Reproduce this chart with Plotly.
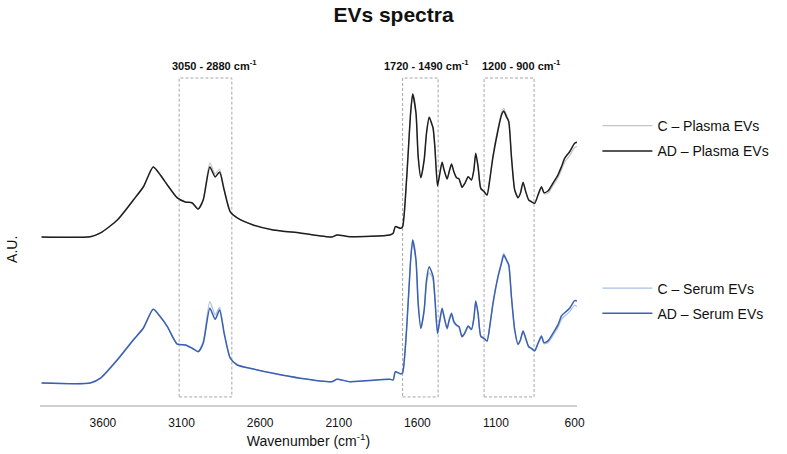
import plotly.graph_objects as go

# Wavenumber grid (cm-1)
wavenumber = [3990, 3680, 3615, 3508, 3406, 3343, 3280, 3235, 3190, 3127, 3076, 3032, 2994, 2962,
              2920, 2886, 2858, 2829, 2790, 2746, 2644, 2517, 2346, 2143, 2111, 2029, 1775, 1754,
              1740, 1707, 1694, 1669, 1643, 1630, 1609, 1595, 1578, 1557, 1542, 1525, 1510, 1500,
              1489, 1472, 1457, 1443, 1430, 1411, 1398, 1383, 1368, 1351, 1335, 1316, 1298, 1277,
              1256, 1241, 1229, 1214, 1197, 1176, 1157, 1140, 1119, 1087, 1065, 1051, 1034, 1019,
              1002, 981, 960, 945, 928, 911, 892, 875, 854, 833, 811, 795, 770, 738, 706, 684,
              663, 632, 600, 585]

plasma_ad = [0.000, 0.002, 0.028, 0.118, 0.257, 0.347, 0.486, 0.431, 0.361, 0.271, 0.243, 0.236, 0.194, 0.257,
             0.486, 0.417, 0.451, 0.326, 0.174, 0.132, 0.083, 0.049, 0.028, 0.000, 0.014, 0.002, 0.014, 0.026,
             0.072, 0.060, 0.072, 0.396, 0.861, 0.993, 0.861, 0.558, 0.412, 0.535, 0.722, 0.831, 0.790, 0.755,
             0.627, 0.354, 0.444, 0.519, 0.465, 0.403, 0.453, 0.507, 0.453, 0.412, 0.403, 0.345, 0.373, 0.419,
             0.396, 0.465, 0.581, 0.488, 0.338, 0.315, 0.292, 0.396, 0.558, 0.743, 0.847, 0.875, 0.835, 0.801,
             0.558, 0.326, 0.273, 0.303, 0.380, 0.315, 0.257, 0.245, 0.234, 0.292, 0.349, 0.308, 0.319, 0.373,
             0.431, 0.488, 0.547, 0.592, 0.651, 0.658]

plasma_c = [0.000, 0.002, 0.028, 0.120, 0.260, 0.350, 0.490, 0.433, 0.362, 0.272, 0.244, 0.237, 0.197, 0.262,
            0.514, 0.438, 0.472, 0.335, 0.176, 0.133, 0.083, 0.049, 0.028, 0.000, 0.014, 0.002, 0.014, 0.026,
            0.072, 0.060, 0.072, 0.396, 0.861, 0.990, 0.858, 0.556, 0.410, 0.533, 0.720, 0.829, 0.788, 0.752,
            0.625, 0.352, 0.442, 0.517, 0.463, 0.401, 0.451, 0.505, 0.451, 0.410, 0.401, 0.343, 0.371, 0.417,
            0.394, 0.463, 0.579, 0.486, 0.336, 0.313, 0.290, 0.400, 0.570, 0.760, 0.865, 0.894, 0.850, 0.805,
            0.556, 0.324, 0.271, 0.301, 0.378, 0.313, 0.255, 0.243, 0.232, 0.288, 0.343, 0.300, 0.305, 0.355,
            0.410, 0.465, 0.520, 0.565, 0.622, 0.627]

serum_ad = [0.000, 0.000, 0.033, 0.160, 0.299, 0.380, 0.512, 0.460, 0.391, 0.269, 0.264, 0.241, 0.217, 0.276,
            0.519, 0.442, 0.507, 0.345, 0.172, 0.125, 0.097, 0.067, 0.033, 0.009, 0.026, 0.009, 0.026, 0.021,
            0.078, 0.063, 0.072, 0.368, 0.854, 0.993, 0.854, 0.553, 0.380, 0.507, 0.715, 0.808, 0.773, 0.738,
            0.599, 0.345, 0.438, 0.519, 0.460, 0.380, 0.438, 0.484, 0.426, 0.403, 0.391, 0.322, 0.349, 0.396,
            0.373, 0.449, 0.569, 0.484, 0.326, 0.310, 0.292, 0.391, 0.553, 0.738, 0.831, 0.889, 0.854, 0.819,
            0.599, 0.368, 0.269, 0.299, 0.361, 0.310, 0.252, 0.241, 0.224, 0.276, 0.326, 0.280, 0.292, 0.345,
            0.403, 0.465, 0.488, 0.519, 0.572, 0.569]

serum_c = [0.000, 0.000, 0.035, 0.165, 0.303, 0.384, 0.514, 0.462, 0.392, 0.270, 0.265, 0.243, 0.222, 0.290,
           0.565, 0.472, 0.525, 0.352, 0.174, 0.126, 0.097, 0.067, 0.033, 0.009, 0.026, 0.009, 0.026, 0.021,
           0.078, 0.063, 0.072, 0.368, 0.850, 0.985, 0.848, 0.550, 0.378, 0.500, 0.690, 0.764, 0.743, 0.715,
           0.585, 0.340, 0.430, 0.505, 0.450, 0.372, 0.428, 0.470, 0.418, 0.396, 0.385, 0.318, 0.343, 0.388,
           0.368, 0.445, 0.560, 0.478, 0.322, 0.306, 0.290, 0.395, 0.560, 0.748, 0.845, 0.901, 0.860, 0.822,
           0.600, 0.366, 0.265, 0.295, 0.357, 0.305, 0.248, 0.238, 0.220, 0.270, 0.318, 0.272, 0.280, 0.328,
           0.385, 0.440, 0.465, 0.495, 0.540, 0.530]

plasma_offset = 1.014

regions = [(3115, 2780, "3050 - 2880 cm<sup>-1</sup>", 2888),
           (1694, 1468, "1720 - 1490 cm<sup>-1</sup>", 1545),
           (1176, 858, "1200 - 900 cm<sup>-1</sup>", 941)]

tick_vals = [3600, 3100, 2600, 2100, 1600, 1100, 600]

FONT = "Liberation Sans, Arial, sans-serif"

fig = go.Figure()

def add(y, name, color, width, legend, offset):
    fig.add_trace(go.Scatter(
        x=wavenumber, y=[v + offset for v in y], mode="lines", name=name,
        line=dict(color=color, width=width, shape="spline", smoothing=0.6),
        legend=legend, legendgroup=name, hoverinfo="skip"))

add(plasma_c, "C – Plasma EVs", "#c4c4c4", 1.2, "legend", plasma_offset)
add(plasma_ad, "AD – Plasma EVs", "#1e1e1e", 1.5, "legend", plasma_offset)
add(serum_c, "C – Serum EVs", "#a9c2e6", 1.2, "legend2", 0)
add(serum_ad, "AD – Serum EVs", "#3c60b0", 1.5, "legend2", 0)

for x0, x1, label, xl in regions:
    fig.add_shape(type="rect", x0=x0, x1=x1, y0=-0.097, y1=2.118, xref="x", yref="y",
                  line=dict(color="#a6a6a6", width=1, dash="3px,2px"), layer="below")
    fig.add_annotation(x=xl, y=2.208, xref="x", yref="y", text="<b>" + label + "</b>",
                       showarrow=False, font=dict(family=FONT, size=11, color="#111"))

fig.add_annotation(text="A.U.", xref="paper", yref="paper", x=-0.052, y=0.425,
                   xanchor="center", yanchor="middle",
                   textangle=-90, showarrow=False, font=dict(family=FONT, size=14, color="#111"))

fig.update_layout(
    width=787, height=454,
    margin=dict(l=40, r=210, t=40, b=49),
    paper_bgcolor="white", plot_bgcolor="white",
    title=dict(text="<b>EVs spectra</b>", x=0.5, xref="container", xanchor="center",
               y=1 - 15 / 454, yanchor="middle",
               font=dict(family=FONT, size=21, color="#111")),
    font=dict(family=FONT, color="#111"),
    xaxis=dict(range=[4000, 585], showgrid=False, zeroline=False, automargin=False,
               showline=True, linecolor="#d0d0d0", linewidth=2,
               tickvals=tick_vals, ticktext=[str(t) for t in tick_vals],
               ticks="outside", ticklen=6, tickcolor="rgba(0,0,0,0)",
               tickfont=dict(family=FONT, size=12, color="#111"),
               title=dict(text="Wavenumber (cm<sup>-1</sup>)", standoff=7,
                          font=dict(family=FONT, size=14, color="#111"))),
    yaxis=dict(range=[-0.153, 2.382], showgrid=False, zeroline=False, automargin=False,
               showline=False, showticklabels=False, ticks=""),
    legend=dict(x=1.038, y=0.808, xanchor="left", yanchor="top", bgcolor="rgba(0,0,0,0)",
                font=dict(family=FONT, size=14, color="#111"), tracegroupgap=4,
                itemwidth=50),
    legend2=dict(x=1.038, y=0.363, xanchor="left", yanchor="top", bgcolor="rgba(0,0,0,0)",
                 font=dict(family=FONT, size=14, color="#111"), tracegroupgap=4,
                 itemwidth=50),
    showlegend=True,
)

fig.write_html("out.html", config={"displayModeBar": False},
               post_script="document.body.style.margin='0';")
